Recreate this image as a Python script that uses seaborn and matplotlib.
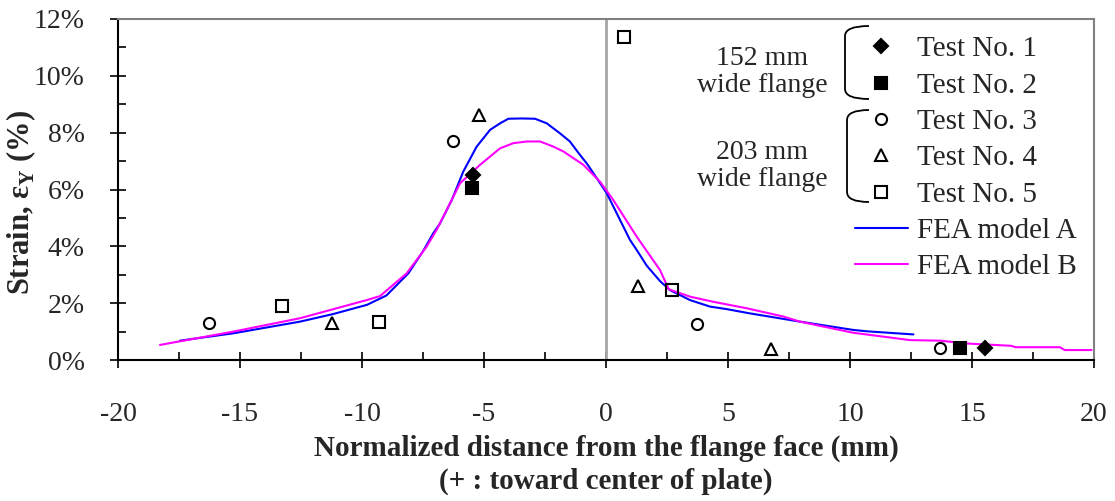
import numpy as np
import pandas as pd
import matplotlib
matplotlib.use('Agg')
import matplotlib.pyplot as plt
from matplotlib.path import Path
from matplotlib.patches import PathPatch
from matplotlib.lines import Line2D
import seaborn as sns

# Test data (strain in %)
test1_x = [-5.46, 15.53]
test1_y = [6.50, 0.42]
test2_x = [-5.50, 14.51]
test2_y = [6.05, 0.43]
test3_x = [-16.27, -6.28, 3.74, 13.69]
test3_y = [1.29, 7.70, 1.28, 0.43]
test4_x = [-11.24, -5.20, 1.30, 6.76]
test4_y = [1.29, 8.61, 2.60, 0.39]
test5_x = [-13.29, -9.29, 0.74, 2.72]
test5_y = [1.90, 1.35, 11.37, 2.45]

# FEA curves
fea_a_x = [-17.46, -15.27, -12.54, -11.17, -9.80, -9.00, -8.10, -7.49, -7.08, -6.80,
           -6.32, -5.85, -5.30, -4.75, -4.34, -4.00, -3.45, -2.91, -2.43, -1.89,
           -1.48, -1.07, -0.79, -0.38, 0.03, 0.98, 1.26, 1.67, 2.21, 2.62,
           3.44, 4.26, 4.95, 5.90, 7.95, 10.12, 10.68, 12.60]
fea_a_y = [0.68, 0.94, 1.35, 1.62, 1.94, 2.27, 3.05, 3.84, 4.46, 4.81,
           5.63, 6.63, 7.51, 8.10, 8.33, 8.49, 8.50, 8.49, 8.33, 7.98,
           7.69, 7.22, 6.92, 6.40, 5.87, 4.23, 3.87, 3.32, 2.78, 2.46,
           2.11, 1.88, 1.79, 1.64, 1.35, 1.06, 1.01, 0.90]
fea_b_x = [-18.28, -15.27, -12.54, -9.80, -9.26, -8.17, -7.35, -6.94, -6.53, -5.98,
           -5.16, -4.34, -3.80, -3.25, -2.70, -2.16, -1.75, -0.93, -0.25, 0.30,
           1.26, 2.21, 2.57, 3.44, 4.39, 5.77, 7.27, 7.95, 10.12, 12.46,
           13.70, 14.80, 16.60, 16.80, 18.60, 18.80, 19.90]
fea_b_y = [0.53, 1.00, 1.47, 2.11, 2.25, 3.05, 3.99, 4.58, 5.28, 6.22,
           6.87, 7.45, 7.63, 7.69, 7.69, 7.51, 7.34, 6.87, 6.28, 5.63,
           4.34, 3.17, 2.49, 2.23, 2.05, 1.82, 1.53, 1.35, 0.96, 0.70,
           0.68, 0.58, 0.50, 0.45, 0.45, 0.35, 0.35]

x_ticks = [-20, -15, -10, -5, 0, 5, 10, 15, 20]
y_ticks = [0, 2, 4, 6, 8, 10, 12]

sns.set_style('ticks')
plt.rcParams['font.family'] = ['Liberation Serif', 'DejaVu Serif']
plt.rcParams['mathtext.fontset'] = 'custom'
plt.rcParams['mathtext.rm'] = 'Liberation Serif'
plt.rcParams['mathtext.bf'] = 'Liberation Serif:bold'

FS = 20
W, H = 1115, 501
fig = plt.figure(figsize=(W / 100, H / 100), dpi=100)
ax = fig.add_axes([118 / W, 1 - 360 / H, (1094 - 118) / W, (360 - 19) / H])

ax.axvline(0, color='#a6a6a6', lw=2, zorder=1)

fea_a = pd.DataFrame({'x': fea_a_x, 'y': fea_a_y})
fea_b = pd.DataFrame({'x': fea_b_x, 'y': fea_b_y})
sns.lineplot(data=fea_a, x='x', y='y', ax=ax, color='#0000ff', lw=1.5,
             estimator=None, sort=False, zorder=2)
sns.lineplot(data=fea_b, x='x', y='y', ax=ax, color='#ff00ff', lw=1.5,
             estimator=None, sort=False, zorder=2)

tests = [
    (test1_x, test1_y, 'D', 'black', 7.5),
    (test2_x, test2_y, 's', 'black', 8),
    (test3_x, test3_y, 'o', 'none', 8),
    (test4_x, test4_y, '^', 'none', 9),
    (test5_x, test5_y, 's', 'none', 9),
]
for tx, ty, mk, fc, ms in tests:
    ax.plot(tx, ty, linestyle='none', marker=mk, markersize=ms,
            markerfacecolor=fc, markeredgecolor='black', markeredgewidth=1.5, zorder=3)

ax.set_xlim(-20, 20)
ax.set_ylim(0, 12)
ax.set_xticks(x_ticks)
ax.set_xticks(np.arange(-17.5, 20, 5), minor=True)
ax.set_yticks(y_ticks)
ax.set_yticks(np.arange(1, 12, 2), minor=True)
ax.set_xticklabels([str(t) for t in x_ticks], fontsize=FS)
ax.set_yticklabels([f'{t}%' for t in y_ticks], fontsize=FS)
ax.tick_params(which='major', direction='inout', length=12, width=1.2, color='black')
ax.tick_params(axis='x', which='major', pad=24)
ax.tick_params(axis='y', which='major', pad=18)
ax.tick_params(which='minor', direction='in', length=6, width=1.2, color='black')

for side in ['left', 'bottom']:
    ax.spines[side].set_color('black')
    ax.spines[side].set_linewidth(1.5)
for side in ['top', 'right']:
    ax.spines[side].set_visible(True)
    ax.spines[side].set_color('#808080')
    ax.spines[side].set_linewidth(1.5)

ax.set_xlabel('Normalized distance from the flange face (mm)\n(+ : toward center of plate)',
              fontsize=21, fontweight='bold', labelpad=6, linespacing=1.25)
ax.set_ylabel(r'Strain, ε$_\mathbf{Y}$ (%)', fontsize=22, fontweight='bold')
ax.yaxis.set_label_coords((38 - 118) / 976, (360 - 202) / 341)

# legend
handles = []
labels = []
for i, (tx, ty, mk, fc, ms) in enumerate(tests):
    handles.append(Line2D([], [], linestyle='none', marker=mk, markersize=ms,
                          markerfacecolor=fc, markeredgecolor='black', markeredgewidth=1.5))
    labels.append(f'Test No. {i + 1}')
handles.append(Line2D([], [], color='#0000ff', lw=1.5))
labels.append('FEA model A')
handles.append(Line2D([], [], color='#ff00ff', lw=1.5))
labels.append('FEA model B')
leg = ax.legend(handles, labels, loc='upper left', bbox_to_anchor=((855 - 118) / 976, (360 - 36) / 341),
                frameon=False, fontsize=21, handlelength=1.8, handletextpad=0.31,
                labelspacing=0.34, borderaxespad=0, borderpad=0)


def px(x, y):
    return (x / W, 1 - y / H)


fig.text(*px(762, 72), '152 mm\nwide flange', fontsize=20, ha='center', va='center', linespacing=1.1)
fig.text(*px(762, 166), '203 mm\nwide flange', fontsize=20, ha='center', va='center', linespacing=1.1)


def bracket(x0, x1, top, bot, r=10):
    verts = [px(x1, top), px(x0, top), px(x0, top + r), px(x0, bot - r), px(x0, bot), px(x1, bot)]
    codes = [Path.MOVETO, Path.CURVE3, Path.CURVE3, Path.LINETO, Path.CURVE3, Path.CURVE3]
    fig.patches.append(PathPatch(Path(verts, codes), transform=fig.transFigure,
                                 fill=False, edgecolor='black', lw=1.3))


bracket(845, 869, 26, 99)
bracket(847, 869, 110, 202)

fig.savefig('out.png', dpi=100)
